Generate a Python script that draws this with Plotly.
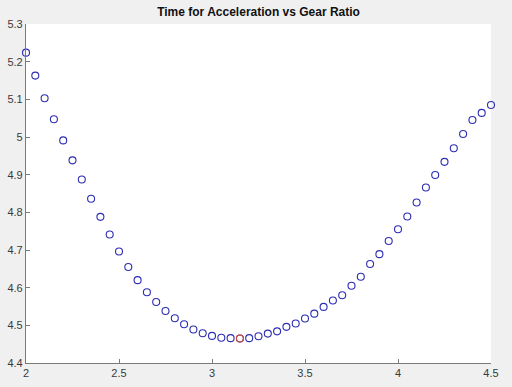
import plotly.graph_objects as go

gear_ratio = [2.00, 2.05, 2.10, 2.15, 2.20, 2.25, 2.30, 2.35, 2.40, 2.45,
              2.50, 2.55, 2.60, 2.65, 2.70, 2.75, 2.80, 2.85, 2.90, 2.95,
              3.00, 3.05, 3.10, 3.15, 3.20, 3.25, 3.30, 3.35, 3.40, 3.45,
              3.50, 3.55, 3.60, 3.65, 3.70, 3.75, 3.80, 3.85, 3.90, 3.95,
              4.00, 4.05, 4.10, 4.15, 4.20, 4.25, 4.30, 4.35, 4.40, 4.45, 4.50]
accel_time = [5.224, 5.163, 5.103, 5.047, 4.991, 4.938, 4.887, 4.836, 4.788, 4.741,
              4.696, 4.655, 4.620, 4.588, 4.562, 4.538, 4.519, 4.503, 4.489, 4.479,
              4.472, 4.467, 4.466, 4.465, 4.466, 4.471, 4.478, 4.484, 4.496, 4.505,
              4.518, 4.531, 4.549, 4.566, 4.580, 4.605, 4.629, 4.663, 4.689, 4.724,
              4.755, 4.789, 4.826, 4.866, 4.899, 4.934, 4.970, 5.008, 5.045, 5.064, 5.085]
min_ratio = [3.15]
min_time = [4.465]

x_ticks = [2, 2.5, 3, 3.5, 4, 4.5]
x_ticktext = ["2", "2.5", "3", "3.5", "4", "4.5"]
y_ticks = [4.4, 4.5, 4.6, 4.7, 4.8, 4.9, 5.0, 5.1, 5.2, 5.3]
y_ticktext = ["4.4", "4.5", "4.6", "4.7", "4.8", "4.9", "5", "5.1", "5.2", "5.3"]

fig = go.Figure()
fig.add_trace(go.Scatter(
    x=gear_ratio, y=accel_time, mode="markers",
    marker=dict(symbol="circle-open", size=7, color="rgb(45,45,180)",
                line=dict(width=1.1, color="rgb(45,45,180)")),
    showlegend=False, cliponaxis=False,
))
fig.add_trace(go.Scatter(
    x=min_ratio, y=min_time, mode="markers",
    marker=dict(symbol="circle-open", size=7, color="rgb(215,75,55)",
                line=dict(width=1.1, color="rgb(215,75,55)")),
    showlegend=False, cliponaxis=False,
))

axis_common = dict(
    showgrid=False, zeroline=False, showline=True, linecolor="#7a7a7a",
    linewidth=1.2, ticks="inside", ticklen=4, tickcolor="#7a7a7a",
    tickfont=dict(family="Liberation Sans, Arial, sans-serif", size=11, color="#3a3a3a"),
    mirror=False, automargin=False,
)
fig.update_xaxes(range=[2, 4.5], tickvals=x_ticks, ticktext=x_ticktext, **axis_common)
fig.update_yaxes(range=[4.4, 5.3], tickvals=y_ticks, ticktext=y_ticktext, ticklabelstandoff=0,
                 **axis_common)

fig.update_layout(
    width=512, height=387,
    margin=dict(l=26, r=21, t=24, b=24, pad=0, autoexpand=False),
    paper_bgcolor="#f0f0f0", plot_bgcolor="#ffffff",
    title=dict(text="<b>Time for Acceleration vs Gear Ratio</b>", x=0.505, xanchor="center",
               y=0.969, yanchor="middle", automargin=False,
               font=dict(family="Liberation Sans, Arial, sans-serif", size=12, color="#111111")),
)

fig.write_html("out.html", config={"displayModeBar": False},
               post_script="document.body.style.margin='0';document.body.style.background='#f0f0f0';")
